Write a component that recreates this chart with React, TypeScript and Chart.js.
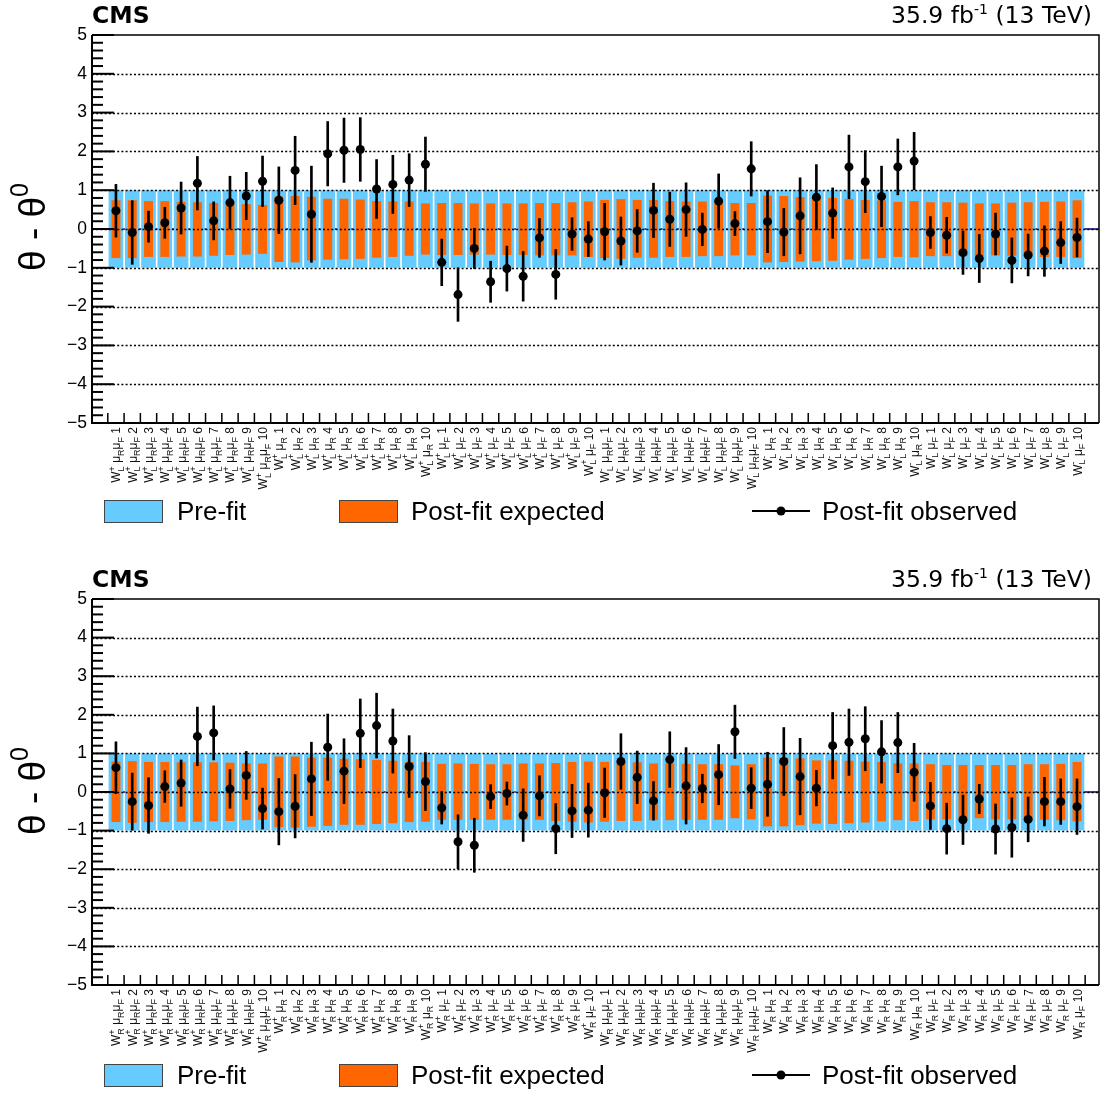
import React, { useEffect, useRef } from 'react';
import { Chart, registerables } from 'chart.js';

Chart.register(...registerables);

const FAMILY = '"Liberation Sans", Arial, Helvetica, sans-serif';
const HEAD_FAMILY = '"DejaVu Sans", "Liberation Sans", Arial, sans-serif';

// ---------- tick-label building blocks ----------
const CHARGES = ['+', '-'];
const SCALE_TAGS = ['μ_{R}μ_{F}', 'μ_{R}', 'μ_{F}'];
const VARIATION_IDS = ['1', '2', '3', '4', '5', '6', '7', '8', '9', '10'];
const TOP_POL = 'L';
const BOTTOM_POL = 'R';

// pre-fit uncertainty band (±1 for every nuisance)
const PREFIT_SIGMA = 1;

// ---------- top panel (W_L) ----------
const TOP_OBS = [
  0.47, -0.09, 0.06, 0.16, 0.54, 1.18, 0.21, 0.68, 0.85, 1.23,
  0.74, 1.51, 0.38, 1.94, 2.03, 2.05, 1.03, 1.15, 1.26, 1.67,
  -0.86, -1.69, -0.5, -1.36, -1.02, -1.22, -0.23, -1.17, -0.13, -0.26,
  -0.07, -0.31, -0.05, 0.48, 0.25, 0.5, -0.01, 0.72, 0.14, 1.55,
  0.19, -0.08, 0.34, 0.82, 0.41, 1.6, 1.22, 0.84, 1.6, 1.75,
  -0.09, -0.16, -0.61, -0.76, -0.13, -0.81, -0.67, -0.57, -0.35, -0.22,
];
const TOP_OBS_ERR = [
  0.68, 0.82, 0.4, 0.4, 0.67, 0.69, 0.49, 0.68, 0.61, 0.65,
  0.86, 0.88, 1.24, 0.83, 0.83, 0.82, 0.76, 0.75, 0.68, 0.7,
  0.6, 0.69, 0.52, 0.53, 0.58, 0.64, 0.5, 0.64, 0.42, 0.45,
  0.73, 0.62, 0.55, 0.7, 0.7, 0.69, 0.42, 0.7, 0.31, 0.7,
  0.8, 0.61, 0.98, 0.84, 0.65, 0.82, 0.8, 0.78, 0.72, 0.74,
  0.41, 0.46, 0.56, 0.62, 0.54, 0.58, 0.54, 0.65, 0.54, 0.5,
];
const TOP_EXP_UP = [
  0.74, 0.74, 0.72, 0.72, 0.7, 0.69, 0.67, 0.66, 0.64, 0.62,
  0.84, 0.85, 0.83, 0.78, 0.78, 0.76, 0.72, 0.71, 0.71, 0.66,
  0.67, 0.67, 0.66, 0.66, 0.66, 0.66, 0.67, 0.67, 0.69, 0.71,
  0.75, 0.77, 0.75, 0.75, 0.72, 0.71, 0.71, 0.7, 0.67, 0.67,
  0.86, 0.85, 0.82, 0.8, 0.8, 0.77, 0.75, 0.74, 0.7, 0.72,
  0.69, 0.69, 0.68, 0.66, 0.66, 0.68, 0.69, 0.7, 0.71, 0.74,
];
const TOP_EXP_DN = [
  -0.75, -0.75, -0.72, -0.72, -0.71, -0.71, -0.69, -0.67, -0.66, -0.64,
  -0.85, -0.86, -0.81, -0.79, -0.78, -0.77, -0.74, -0.72, -0.69, -0.66,
  -0.67, -0.67, -0.66, -0.66, -0.67, -0.67, -0.68, -0.68, -0.68, -0.72,
  -0.75, -0.77, -0.74, -0.74, -0.72, -0.72, -0.7, -0.7, -0.68, -0.68,
  -0.86, -0.85, -0.84, -0.83, -0.82, -0.79, -0.77, -0.75, -0.72, -0.73,
  -0.7, -0.7, -0.7, -0.68, -0.68, -0.69, -0.7, -0.72, -0.72, -0.75,
];

// ---------- bottom panel (W_R) ----------
const BOT_OBS = [
  0.63, -0.25, -0.35, 0.14, 0.23, 1.44, 1.53, 0.08, 0.43, -0.43,
  -0.51, -0.37, 0.34, 1.16, 0.54, 1.52, 1.72, 1.32, 0.66, 0.27,
  -0.41, -1.29, -1.38, -0.12, -0.04, -0.6, -0.1, -0.95, -0.49, -0.47,
  -0.02, 0.79, 0.38, -0.23, 0.84, 0.16, 0.09, 0.45, 1.56, 0.1,
  0.2, 0.79, 0.4, 0.1, 1.2, 1.29, 1.38, 1.04, 1.28, 0.51,
  -0.36, -0.95, -0.72, -0.18, -0.96, -0.92, -0.71, -0.25, -0.25, -0.38,
];
const BOT_OBS_ERR = [
  0.67, 0.74, 0.72, 0.41, 0.6, 0.76, 0.7, 0.5, 0.62, 0.53,
  0.86, 0.82, 0.95, 0.86, 0.84, 0.89, 0.84, 0.83, 0.8, 0.75,
  0.42, 0.7, 0.7, 0.31, 0.3, 0.68, 0.52, 0.65, 0.69, 0.7,
  0.64, 0.72, 0.68, 0.5, 0.72, 0.99, 0.37, 0.78, 0.69, 0.53,
  0.83, 0.88, 0.99, 0.46, 0.86, 0.86, 0.83, 0.81, 0.78, 0.75,
  0.61, 0.66, 0.64, 0.38, 0.65, 0.77, 0.58, 0.63, 0.59, 0.72,
];
const BOT_EXP_UP = [
  0.79, 0.8, 0.78, 0.78, 0.77, 0.77, 0.77, 0.76, 0.74, 0.74,
  0.92, 0.92, 0.89, 0.89, 0.86, 0.85, 0.83, 0.81, 0.78, 0.78,
  0.73, 0.74, 0.73, 0.72, 0.72, 0.74, 0.74, 0.75, 0.78, 0.79,
  0.78, 0.76, 0.77, 0.74, 0.74, 0.73, 0.72, 0.72, 0.69, 0.72,
  0.89, 0.89, 0.87, 0.82, 0.82, 0.81, 0.79, 0.78, 0.74, 0.74,
  0.72, 0.7, 0.7, 0.7, 0.7, 0.7, 0.72, 0.72, 0.73, 0.78,
];
const BOT_EXP_DN = [
  -0.78, -0.8, -0.78, -0.78, -0.77, -0.77, -0.76, -0.75, -0.73, -0.72,
  -0.91, -0.92, -0.9, -0.88, -0.85, -0.85, -0.83, -0.81, -0.78, -0.77,
  -0.72, -0.72, -0.72, -0.72, -0.72, -0.72, -0.72, -0.75, -0.77, -0.79,
  -0.77, -0.75, -0.75, -0.73, -0.73, -0.72, -0.72, -0.72, -0.68, -0.71,
  -0.89, -0.89, -0.86, -0.82, -0.83, -0.81, -0.79, -0.76, -0.73, -0.75,
  -0.71, -0.71, -0.71, -0.68, -0.71, -0.71, -0.72, -0.72, -0.73, -0.76,
];

const Y_TICKS = [-5, -4, -3, -2, -1, 0, 1, 2, 3, 4, 5];
const LEGEND_TEXT = ['Pre-fit', 'Post-fit expected', 'Post-fit observed'];
const HEADER_LEFT = 'CMS';
const HEADER_RIGHT = '35.9 fb^{-1} (13 TeV)';
const Y_TITLE = 'θ - θ^{0}';

function buildLabels(pol: string): string[] {
  const out: string[] = [];
  for (const c of CHARGES)
    for (const g of SCALE_TAGS)
      for (const n of VARIATION_IDS) out.push(`W^{${c}}_{${pol}} ${g} ${n}`);
  return out;
}

const TOP_LABELS = buildLabels(TOP_POL);
const BOT_LABELS = buildLabels(BOTTOM_POL);

// ---------- rich-text (sub/superscript) rendering ----------
type Seg = { main?: string; sup?: string; sub?: string };

function parseRich(s: string): Seg[] {
  const segs: Seg[] = [];
  let buf = '';
  let i = 0;
  while (i < s.length) {
    const ch = s[i];
    if ((ch === '^' || ch === '_') && s[i + 1] === '{') {
      const end = s.indexOf('}', i);
      const content = s.slice(i + 2, end);
      if (buf) {
        segs.push({ main: buf });
        buf = '';
      }
      const last = segs[segs.length - 1];
      if (
        last &&
        last.main === undefined &&
        ((ch === '^' && last.sup === undefined) || (ch === '_' && last.sub === undefined))
      ) {
        if (ch === '^') last.sup = content;
        else last.sub = content;
      } else {
        segs.push(ch === '^' ? { sup: content } : { sub: content });
      }
      i = end + 1;
    } else {
      buf += ch;
      i++;
    }
  }
  if (buf) segs.push({ main: buf });
  return segs;
}

type RichOpts = {
  size: number;
  small: number;
  weight?: string;
  family?: string;
  rise: number;
  drop: number;
  align: 'left' | 'right' | 'center';
};

function drawRich(ctx: CanvasRenderingContext2D, text: string, x: number, y: number, o: RichOpts) {
  const segs = parseRich(text);
  const w = o.weight ? o.weight + ' ' : '';
  const fam = o.family || FAMILY;
  const mainFont = `${w}${o.size}px ${fam}`;
  const smallFont = `${w}${o.small}px ${fam}`;
  const widths = segs.map((s) => {
    if (s.main !== undefined) {
      ctx.font = mainFont;
      return ctx.measureText(s.main).width;
    }
    ctx.font = smallFont;
    const a = s.sup ? ctx.measureText(s.sup).width : 0;
    const b = s.sub ? ctx.measureText(s.sub).width : 0;
    return Math.max(a, b);
  });
  const total = widths.reduce((a, b) => a + b, 0);
  let cx = o.align === 'right' ? x - total : o.align === 'center' ? x - total / 2 : x;
  ctx.textAlign = 'left';
  ctx.textBaseline = 'alphabetic';
  segs.forEach((s, k) => {
    if (s.main !== undefined) {
      ctx.font = mainFont;
      ctx.fillText(s.main, cx, y);
    } else {
      ctx.font = smallFont;
      if (s.sup) ctx.fillText(s.sup, cx, y - o.rise);
      if (s.sub) ctx.fillText(s.sub, cx, y + o.drop);
    }
    cx += widths[k];
  });
}

// ---------- decoration plugin ----------
function makeDecor(labels: string[]) {
  return {
    id: 'rootDecor',
    beforeDatasetsDraw(chart: any) {
      const { ctx, chartArea } = chart;
      const ys = chart.scales.y;
      ctx.save();
      ctx.strokeStyle = '#000080';
      ctx.lineWidth = 1.5;
      ctx.beginPath();
      const y0 = ys.getPixelForValue(0);
      ctx.moveTo(chartArea.left, y0);
      ctx.lineTo(chartArea.right, y0);
      ctx.stroke();
      ctx.restore();
    },
    afterDatasetDraw(chart: any, args: any) {
      if (args.index !== 1) return;
      const { ctx, chartArea } = chart;
      const ys = chart.scales.y;
      ctx.save();
      ctx.strokeStyle = '#000';
      ctx.lineWidth = 1.5;
      ctx.setLineDash([2, 2.2]);
      for (const v of Y_TICKS) {
        if (v === -5 || v === 5) continue;
        const py = Math.round(ys.getPixelForValue(v)) + 0.5;
        ctx.beginPath();
        ctx.moveTo(chartArea.left, py);
        ctx.lineTo(chartArea.right, py);
        ctx.stroke();
      }
      ctx.restore();
    },
    afterDraw(chart: any) {
      const { ctx, chartArea } = chart;
      const { left, right, top, bottom } = chartArea;
      const xs = chart.scales.x;
      const ys = chart.scales.y;
      ctx.save();
      ctx.fillStyle = '#000';
      ctx.strokeStyle = '#000';

      // frame
      ctx.lineWidth = 1.5;
      ctx.beginPath();
      ctx.moveTo(left, top);
      ctx.lineTo(right, top);
      ctx.lineTo(right, bottom);
      ctx.stroke();
      ctx.lineWidth = 2;
      ctx.beginPath();
      ctx.moveTo(left, top);
      ctx.lineTo(left, bottom);
      ctx.lineTo(right, bottom);
      ctx.stroke();

      // y ticks (major + minor, inward)
      ctx.lineWidth = 2;
      for (let k = -25; k <= 25; k++) {
        const v = k / 5;
        const py = ys.getPixelForValue(v);
        const len = k % 5 === 0 ? 22 : 11;
        ctx.beginPath();
        ctx.moveTo(left, py);
        ctx.lineTo(left + len, py);
        ctx.stroke();
      }

      // x ticks at bin edges
      ctx.lineWidth = 1.5;
      for (let e = -0.5; e <= labels.length - 0.5; e += 1) {
        const px = xs.getPixelForValue(e);
        ctx.beginPath();
        ctx.moveTo(px, bottom);
        ctx.lineTo(px, bottom - 10);
        ctx.stroke();
      }

      // x labels (rotated, rich)
      ctx.fillStyle = '#111';
      labels.forEach((lab, i) => {
        const px = xs.getPixelForValue(i);
        ctx.save();
        ctx.translate(px + 4.5, bottom + 4);
        ctx.rotate(-Math.PI / 2);
        drawRich(ctx, lab, 0, 0, { size: 12, small: 9, rise: 5.5, drop: 3.5, align: 'right' });
        ctx.restore();
      });
      ctx.fillStyle = '#000';

      // header
      drawRich(ctx, HEADER_LEFT, left, 23, {
        size: 23.5, small: 14, weight: 'bold', family: HEAD_FAMILY, rise: 9, drop: 4, align: 'left',
      });
      drawRich(ctx, HEADER_RIGHT, 1092, 23, {
        size: 23.5, small: 14, family: HEAD_FAMILY, rise: 9, drop: 4, align: 'right',
      });

      // y title
      ctx.save();
      ctx.translate(45, 227);
      ctx.rotate(-Math.PI / 2);
      drawRich(ctx, Y_TITLE, 0, 0, { size: 37, small: 25, rise: 17, drop: 6, align: 'center' });
      ctx.restore();

      // legend
      const ly = 511;
      ctx.fillStyle = '#66ccff';
      ctx.fillRect(104, 500, 59, 23);
      ctx.lineWidth = 1;
      ctx.strokeStyle = '#444';
      ctx.strokeRect(104.5, 500.5, 58, 22);
      ctx.fillStyle = '#ff6600';
      ctx.fillRect(339, 500, 59, 23);
      ctx.strokeRect(339.5, 500.5, 58, 22);
      ctx.strokeStyle = '#000';
      ctx.lineWidth = 2;
      ctx.beginPath();
      ctx.moveTo(752, ly);
      ctx.lineTo(810, ly);
      ctx.stroke();
      ctx.fillStyle = '#000';
      ctx.beginPath();
      ctx.arc(781, ly, 4.5, 0, Math.PI * 2);
      ctx.fill();
      ctx.font = `26px ${FAMILY}`;
      ctx.textAlign = 'left';
      ctx.textBaseline = 'alphabetic';
      ctx.fillText(LEGEND_TEXT[0], 177, 520);
      ctx.fillText(LEGEND_TEXT[1], 411, 520);
      ctx.fillText(LEGEND_TEXT[2], 822, 520);

      ctx.restore();
    },
  };
}

type PanelProps = {
  obs: number[];
  err: number[];
  expUp: number[];
  expDn: number[];
  labels: string[];
  height: number;
  plotBottom: number;
};

function Panel({ obs, err, expUp, expDn, labels, height, plotBottom }: PanelProps) {
  const ref = useRef<HTMLCanvasElement>(null);
  useEffect(() => {
    if (!ref.current) return;
    const idx = obs.map((_, i) => i);
    const chart = new Chart(ref.current, {
      type: 'bar',
      data: {
        datasets: [
          {
            type: 'bar',
            label: LEGEND_TEXT[0],
            data: idx.map((i) => ({ x: i, y: [-PREFIT_SIGMA, PREFIT_SIGMA] })) as any,
            backgroundColor: '#66ccff',
            barPercentage: 0.9,
            categoryPercentage: 1,
            grouped: false,
            order: 4,
          } as any,
          {
            type: 'bar',
            label: LEGEND_TEXT[1],
            data: idx.map((i) => ({ x: i, y: [expDn[i], expUp[i]] })) as any,
            backgroundColor: '#ff6600',
            barPercentage: 0.55,
            categoryPercentage: 1,
            grouped: false,
            order: 3,
          } as any,
          {
            type: 'bar',
            label: 'obs-err',
            data: idx.map((i) => ({ x: i, y: [obs[i] - err[i], obs[i] + err[i]] })) as any,
            backgroundColor: '#000',
            barThickness: 2,
            grouped: false,
            order: 2,
          } as any,
          {
            type: 'scatter',
            label: LEGEND_TEXT[2],
            data: idx.map((i) => ({ x: i, y: obs[i] })),
            pointRadius: 4.5,
            pointBackgroundColor: '#000',
            pointBorderWidth: 0,
            showLine: false,
            order: 1,
          } as any,
        ],
      },
      options: {
        animation: false,
        responsive: false,
        maintainAspectRatio: false,
        events: [],
        layout: { padding: { left: 0, right: 6, top: 35, bottom: height - plotBottom } },
        plugins: { legend: { display: false }, tooltip: { enabled: false } },
        scales: {
          x: { type: 'linear', min: -1.47, max: 60.35, display: false, offset: false },
          y: {
            type: 'linear',
            min: -5,
            max: 5,
            grid: { display: false, drawTicks: false },
            border: { display: false },
            ticks: {
              stepSize: 1,
              padding: 5,
              color: '#000',
              font: { family: FAMILY, size: 17.5 },
              callback: (v: any) => (Number(v) < 0 ? '\u2212' + Math.abs(Number(v)) : String(v)),
            },
            afterFit: (s: any) => {
              s.width = 92;
            },
          },
        },
      } as any,
      plugins: [makeDecor(labels)],
    });
    return () => chart.destroy();
  }, []);
  return <canvas ref={ref} width={1105} height={height} style={{ display: 'block' }} />;
}

export default function App() {
  return (
    <div style={{ position: 'absolute', left: 0, top: 0, width: 1105, height: 1095, background: '#fff' }}>
      <Panel
        obs={TOP_OBS}
        err={TOP_OBS_ERR}
        expUp={TOP_EXP_UP}
        expDn={TOP_EXP_DN}
        labels={TOP_LABELS}
        height={564}
        plotBottom={423}
      />
      <Panel
        obs={BOT_OBS}
        err={BOT_OBS_ERR}
        expUp={BOT_EXP_UP}
        expDn={BOT_EXP_DN}
        labels={BOT_LABELS}
        height={531}
        plotBottom={421}
      />
    </div>
  );
}
